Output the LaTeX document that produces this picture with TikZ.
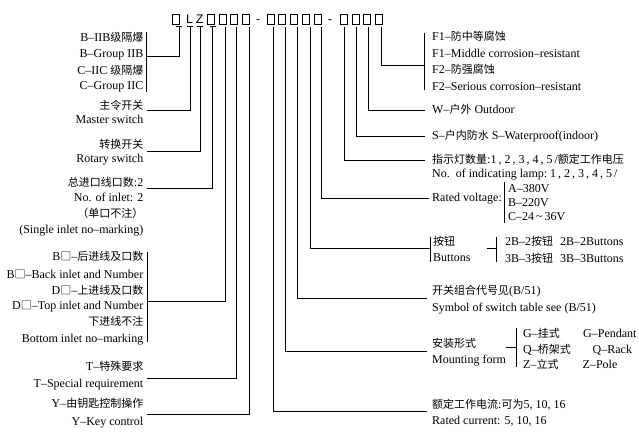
\documentclass[tikz,border=0pt]{standalone}
\usepackage{fontspec}
\setmainfont{Liberation Serif}
\newfontfamily\cjk{Noto Sans CJK SC}
\newfontfamily\hdrfont{Liberation Sans}
\newcommand\zh[1]{{\cjk\fontsize{11}{12}\selectfont #1}}
\begin{document}
\begin{tikzpicture}[x=1pt,y=-1pt,
  lab/.style={inner sep=0pt, font=\fontsize{12}{14}\selectfont},
  lt/.style={lab, anchor=base east},
  rt/.style={lab, anchor=base west},
  wire/.style={line width=0.8pt},
  slot/.style={draw, line width=0.8pt, minimum width=7pt, minimum height=9.3pt, inner sep=0pt},
  hd/.style={inner sep=0pt, anchor=base, font=\hdrfont\fontsize{12.5}{12.5}\selectfont}]
\useasboundingbox (0,0) rectangle (639,438);
% ---------- header ----------
\foreach \n/\x in {b1/176.3,b2/210.8,b3/222.5,b4/234.2,b5/246.3,b6/270.7,b7/282.3,b8/294.2,b9/306,b10/317.8,b11/344,b12/355.7,b13/367.3,b14/379.2}
  \node[slot] (\n) at (\x,19.35) {};
\node[hd] (hL) at (189.5,24) {L};
\node[hd] (hZ) at (199.7,24) {Z};
\node[hd] (hd1) at (258.3,24) {-};
\node[hd] (hd2) at (330,24) {-};
% ---------- tick tops ----------
\foreach \n/\x in {t1/179,t2/190,t3/200,t4/212.7,t5/225.5,t6/236.7,t7/249.5,t8/273.3,t9/285.5,t10/297.8,t11/310,t12/321.5,t13/344.7,t14/356.8,t15/368.8,t16/381.5}
  \coordinate (\n) at (\x,26.8);
\foreach \n in {t1,t2,t3,t4}
  \draw[wire] ([xshift=-2.8pt]\n) -- ([xshift=2.8pt]\n);
% ---------- left labels ----------
\node[lt] (la1) at (143.5,41.3) {B–IIB\zh{级隔爆}};
\node[lt] (la2) at (143.5,58) {B–Group IIB};
\node[lt] (la3) at (143.5,74.7) {C–IIC \zh{级隔爆}};
\node[lt] (la4) at (143.5,89.7) {C–Group IIC};
\node[lt] (lb1) at (143.5,110) {\zh{主令开关}};
\node[lt] (lb2) at (143.5,124) {Master switch};
\node[lt] (lc1) at (143.5,148.3) {\zh{转换开关}};
\node[lt] (lc2) at (143.5,162.3) {Rotary switch};
\node[lt] (ld1) at (143.5,186.3) {\zh{总进口线口数}:2};
\node[lt] (ld2) at (143.5,201.7) {No. of inlet: 2};
\node[lt] (ld3) at (143.5,217.3) {\zh{（单口不注）}};
\node[lt] (ld4) at (143.5,233.3) {(Single inlet no–marking)};
\node[lt] (le1) at (143.5,260.7) {B\zh{□}–\zh{后进线及口数}};
\node[lt] (le2) at (143.5,278) {B\zh{□}–Back inlet and Number};
\node[lt] (le3) at (143.5,294) {D\zh{□}–\zh{上进线及口数}};
\node[lt] (le4) at (143.5,309.7) {D\zh{□}–Top inlet and Number};
\node[lt] (le5) at (143.5,325.7) {\zh{下进线不注}};
\node[lt] (le6) at (143.5,342.3) {Bottom inlet no–marking};
\node[lt] (lf1) at (143.5,370.7) {T–\zh{特殊要求}};
\node[lt] (lf2) at (143.5,387.3) {T–Special requirement};
\node[lt] (lg1) at (143.5,407.3) {Y–\zh{由钥匙控制操作}};
\node[lt] (lg2) at (143.5,425.7) {Y–Key control};
% ---------- left joints ----------
\coordinate (ja) at (146.7,56.7);
\coordinate (jaT) at (146.7,31.7);
\coordinate (jaB) at (146.7,91.7);
\coordinate (jb) at (147,110);
\coordinate (jc) at (147,151.7);
\coordinate (jd) at (147,188.3);
\coordinate (je) at (147,301);
\coordinate (jeT) at (147,251.7);
\coordinate (jeB) at (147,341.7);
\coordinate (jf) at (147,378.3);
\coordinate (jg) at (147,414.3);
\draw[wire] (jaT) -- (jaB);
\draw[wire] (jeT) -- (jeB);
\draw[wire] (t1) |- (ja);
\draw[wire] (t2) |- (jb);
\draw[wire] (t3) |- (jc);
\draw[wire] (t4) |- (jd);
\draw[wire] (t5) |- (je);
\draw[wire] (t6) |- (jf);
\draw[wire] (t7) |- (jg);
% ---------- right labels ----------
\node[rt] (ra1) at (432,40.7) {F1–\zh{防中等腐蚀}};
\node[rt] (ra2) at (432,57.3) {F1–Middle corrosion–resistant};
\node[rt] (ra3) at (432,74) {F2–\zh{防强腐蚀}};
\node[rt] (ra4) at (432,90.7) {F2–Serious corrosion–resistant};
\node[rt] (rb) at (432,114) {W–\zh{户外} Outdoor};
\node[rt] (rc) at (432,140) {S–\zh{户内防水} S–Waterproof(indoor)};
\node[rt] (rd1) at (432,164) {\zh{指示灯数量}:1\,, 2\,, 3\,, 4\,, 5\,/\zh{额定工作电压}};
\node[rt] (rd2) at (432,178) {No.\ \ of indicating lamp:\ 1\,, 2\,, 3\,, 4\,, 5\,/};
\node[rt] (re) at (432,202) {Rated voltage:};
\node[rt] (re1) at (508,193) {A–380V};
\node[rt] (re2) at (508,207) {B–220V};
\node[rt] (re3) at (508,221) {C–24\,\textasciitilde\,36V};
\node[rt] (rf1) at (433,245.7) {\zh{按钮}};
\node[rt] (rf2) at (433,261) {Buttons};
\node[rt] (rf3) at (505,245.7) {2B–2\zh{按钮}};
\node[rt] (rf4) at (560,245.7) {2B–2Buttons};
\node[rt] (rf5) at (505,262.3) {3B–3\zh{按钮}};
\node[rt] (rf6) at (560,262.3) {3B–3Buttons};
\node[rt] (rg1) at (432,294.7) {\zh{开关组合代号见}(B/51)};
\node[rt] (rg2) at (432,311.7) {Symbol of switch table see (B/51)};
\node[rt] (rh1) at (432,347.3) {\zh{安装形式}};
\node[rt] (rh2) at (432,363) {Mounting form};
\node[rt] (rh3) at (523,337.3) {G–\zh{挂式}};
\node[rt] (rh4) at (583,337.3) {G–Pendant};
\node[rt] (rh5) at (523,353.3) {Q–\zh{桥架式}};
\node[rt] (rh6) at (592.5,353.3) {Q–Rack};
\node[rt] (rh7) at (523,368.3) {Z–\zh{立式}};
\node[rt] (rh8) at (582.5,368.3) {Z–Pole};
\node[rt] (ri1) at (432,408) {\zh{额定工作电流}:\zh{可为}5, 10, 16};
\node[rt] (ri2) at (432,424.7) {Rated current: 5, 10, 16};
% ---------- right joints ----------
\coordinate (ka) at (424,65);
\coordinate (kaT) at (424,33);
\coordinate (kaB) at (424,90);
\coordinate (kb) at (425,110);
\coordinate (kc) at (425,136);
\coordinate (kd) at (425,160);
\coordinate (ke) at (429,198);
\coordinate (kf) at (430,248.3);
\coordinate (kfT) at (430,236.5);
\coordinate (kfB) at (430,262);
\coordinate (kg) at (427,298.3);
\coordinate (kh) at (427,351);
\coordinate (ki) at (427,411.7);
\draw[wire] (kaT) -- (kaB);
\draw[wire] (kfT) -- (kfB);
\draw[wire] (t16) |- (ka);
\draw[wire] (t15) |- (kb);
\draw[wire] (t14) |- (kc);
\draw[wire] (t13) |- (kd);
\draw[wire] (t12) |- (ke);
\draw[wire] (t11) |- (kf);
\draw[wire] (t10) |- (kg);
\draw[wire] (t9) |- (kh);
\draw[wire] (t8) |- (ki);
% ---------- sub brackets ----------
\coordinate (veT) at (504,182);
\coordinate (veB) at (504,223);
\draw[wire] (veT) -- (veB);
\coordinate (vf0) at (486.5,248.5);
\coordinate (vf1) at (496.5,248.5);
\coordinate (vfT) at (496.5,236.5);
\coordinate (vfB) at (496.5,262);
\draw[wire] (vf0) -- (vf1);
\draw[wire] (vfT) -- (vfB);
\coordinate (vh0) at (505.5,347);
\coordinate (vh1) at (516.5,347);
\coordinate (vhT) at (516.5,328);
\coordinate (vhB) at (516.5,367);
\draw[wire] (vh0) -- (vh1);
\draw[wire] (vhT) -- (vhB);
\end{tikzpicture}
\end{document}
